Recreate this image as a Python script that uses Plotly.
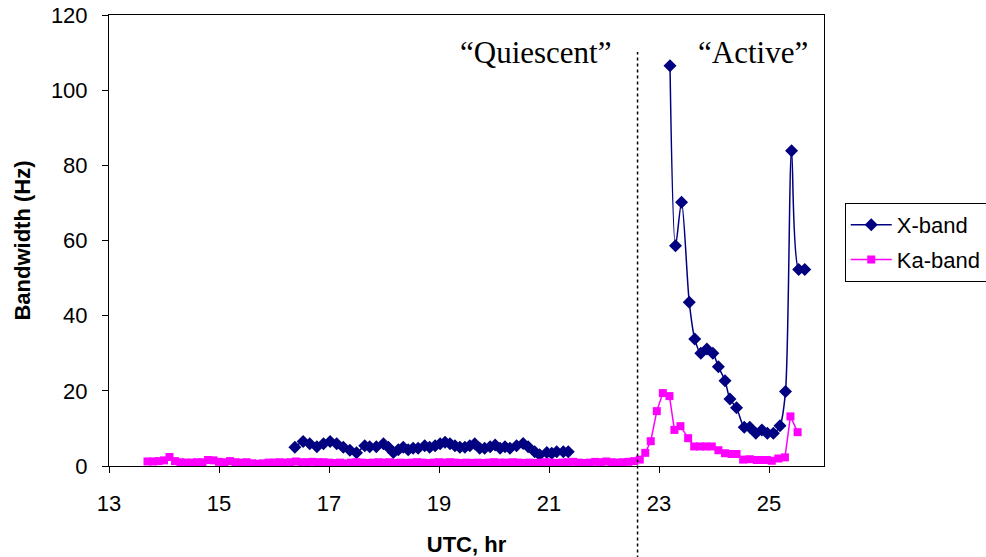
import plotly.graph_objects as go

# ---- data -------------------------------------------------------------
# X-band bandwidth (Hz) versus UTC hour; None breaks the line in the data gap
x_band_hr = [16.38, 16.53, 16.65, 16.78, 16.90, 17.02, 17.14, 17.26, 17.38, 17.50,
             17.65, 17.74, 17.86, 17.99, 18.08, 18.17, 18.26, 18.35, 18.44, 18.53,
             18.62, 18.74, 18.83, 18.93, 19.02, 19.11, 19.20, 19.29, 19.38, 19.47,
             19.56, 19.65, 19.74, 19.83, 19.93, 20.02, 20.11, 20.20, 20.29, 20.41,
             20.53, 20.62, 20.74, 20.83, 20.96, 21.05, 21.14, 21.26, 21.35,
             22.00,
             23.20, 23.30, 23.41, 23.55, 23.65, 23.76, 23.87, 23.98, 24.08, 24.20,
             24.29, 24.41, 24.55, 24.65, 24.76, 24.87, 24.97, 25.08, 25.20, 25.30,
             25.41, 25.54, 25.65]
x_band_hz = [5.0, 6.5, 5.9, 5.1, 5.9, 6.5, 5.9, 5.0, 4.2, 3.5,
             5.4, 5.1, 5.1, 5.9, 5.0, 3.6, 4.3, 5.0, 4.3, 4.7,
             4.7, 5.4, 5.0, 5.4, 5.9, 6.3, 5.9, 5.4, 5.0, 5.0,
             5.4, 5.9, 4.7, 4.7, 5.1, 5.6, 4.7, 5.1, 4.7, 5.4,
             6.0, 5.1, 3.8, 3.0, 3.6, 3.4, 3.8, 3.8, 3.8,
             None,
             106.5, 58.6, 70.2, 43.6, 33.8, 30.0, 31.1, 30.0, 26.4, 22.7,
             17.8, 15.5, 10.3, 10.3, 8.7, 9.6, 8.7, 8.7, 10.7, 19.8,
             83.9, 52.3, 52.3]

# Ka-band bandwidth (Hz) versus UTC hour
ka_band_hr = [13.7, 13.8, 13.9, 14.0, 14.1, 14.2, 14.3, 14.4, 14.5, 14.6,
              14.7, 14.8, 14.9, 15.0, 15.1, 15.2, 15.3, 15.4, 15.5, 15.6,
              15.7, 15.8, 15.9, 16.0, 16.1, 16.2, 16.3, 16.4, 16.5, 16.6,
              16.7, 16.8, 16.9, 17.0, 17.1, 17.2, 17.3, 17.4, 17.5, 17.6,
              17.7, 17.8, 17.9, 18.0, 18.1, 18.2, 18.3, 18.4, 18.5, 18.6,
              18.7, 18.8, 18.9, 19.0, 19.1, 19.2, 19.3, 19.4, 19.5, 19.6,
              19.7, 19.8, 19.9, 20.0, 20.1, 20.2, 20.27, 20.34, 20.44, 20.54,
              20.64, 20.74, 20.84, 20.94, 21.04, 21.14, 21.24, 21.34, 21.44, 21.54,
              21.64, 21.74, 21.84, 21.94, 22.04, 22.14, 22.24, 22.34, 22.44, 22.55,
              22.65, 22.75, 22.85, 22.96, 23.07, 23.19, 23.28, 23.39, 23.53, 23.64,
              23.75, 23.85, 23.96, 24.08, 24.20, 24.32, 24.41, 24.53, 24.65, 24.78,
              24.87, 24.96, 25.05, 25.17, 25.29, 25.39, 25.52]
ka_band_hz = [1.2, 1.2, 1.3, 1.5, 2.4, 1.3, 1.0, 0.9, 0.9, 1.0,
              1.0, 1.6, 1.5, 1.1, 1.0, 1.3, 1.0, 0.9, 1.0, 0.7,
              0.6, 0.7, 0.9, 0.9, 1.0, 0.9, 1.0, 1.2, 1.0, 1.0,
              1.1, 1.0, 1.0, 0.9, 0.8, 0.9, 0.7, 0.9, 1.0, 0.9,
              0.8, 0.9, 1.0, 0.9, 1.0, 0.8, 0.9, 0.8, 0.9, 1.0,
              0.9, 0.8, 0.9, 1.0, 0.9, 1.0, 0.9, 0.8, 0.9, 0.8,
              0.9, 0.8, 0.9, 1.0, 0.9, 0.9, None, 1.0, 0.9, 0.8,
              0.9, 0.8, 0.9, 1.0, 0.9, 0.8, 0.9, 1.0, 1.1, 0.9,
              0.8, 0.9, 1.1, 1.0, 1.2, 1.0, 0.9, 1.0, 1.1, 1.3,
              1.7, 3.5, 6.6, 14.6, 19.4, 18.6, 9.6, 10.6, 7.4, 5.2,
              5.2, 5.2, 5.2, 4.2, 3.4, 3.2, 3.2, 1.7, 1.8, 1.6,
              1.6, 1.6, 1.4, 2.0, 2.3, 13.2, 9.0]

x_ticks = [13, 15, 17, 19, 21, 23, 25]
x_range = [13, 26]
y_range = [0, 120]
regime_boundary_hr = 22.61
regime_labels = ["\u201cQuiescent\u201d", "\u201cActive\u201d"]
regime_label_hr = [20.76, 24.70]

SANS = "Arial, Liberation Sans, sans-serif"
SERIF = "Times New Roman, Liberation Serif, serif"
NAVY = "#000080"
MAGENTA = "#FF00FF"

fig = go.Figure()

fig.add_trace(go.Scatter(
    x=x_band_hr, y=x_band_hz, name="X-band", mode="lines+markers",
    line=dict(color=NAVY, width=1.5, shape="spline", smoothing=0.8),
    marker=dict(symbol="diamond", size=10, color=NAVY),
    connectgaps=False, legendgroup="x",
))
fig.add_trace(go.Scatter(
    x=ka_band_hr, y=ka_band_hz, name="Ka-band", mode="lines+markers",
    line=dict(color=MAGENTA, width=1.5),
    marker=dict(symbol="square", size=8, color=MAGENTA),
    connectgaps=False, legendgroup="ka",
))

# dotted divider between the two regimes, running below the axis
bx = (regime_boundary_hr - x_range[0]) / (x_range[1] - x_range[0])
fig.add_shape(type="line", xref="paper", yref="paper",
              x0=bx, x1=bx, y0=-0.205, y1=0.918,
              line=dict(color="black", width=1.5, dash="dot"))

for label, hr in zip(regime_labels, regime_label_hr):
    fig.add_annotation(x=hr, y=1.0, xref="x", yref="paper",
                       text=label, showarrow=False, yanchor="top",
                       yshift=-18, xanchor="center",
                       font=dict(family=SERIF, size=31, color="black"))

axis_common = dict(
    showline=True, linecolor="black", linewidth=1, mirror=True,
    ticks="outside", ticklen=6, tickcolor="black", tickwidth=1,
    showgrid=False, zeroline=False,
    tickfont=dict(family=SANS, size=22, color="black"),
)

fig.update_xaxes(range=x_range, tickvals=x_ticks, ticklabelstandoff=12,
                 title=dict(text="<b>UTC, hr</b>", standoff=22,
                            font=dict(family=SANS, size=22, color="black")),
                 **axis_common)
fig.update_yaxes(range=y_range, dtick=20, ticklabelstandoff=10,
                 title=dict(text="<b>Bandwidth (Hz)</b>", standoff=14,
                            font=dict(family=SANS, size=22, color="black")),
                 **axis_common)

fig.update_layout(
    width=986, height=557,
    margin=dict(l=109, r=162, t=15, b=91, autoexpand=False),
    paper_bgcolor="white", plot_bgcolor="white",
    font=dict(family=SANS, size=22, color="black"),
    legend=dict(x=1.029, y=0.583, xanchor="left", yanchor="top",
                bordercolor="black", borderwidth=1, bgcolor="white",
                itemwidth=41, tracegroupgap=3,
                font=dict(family=SANS, size=22, color="black")),
)

fig.write_html("out.html")
